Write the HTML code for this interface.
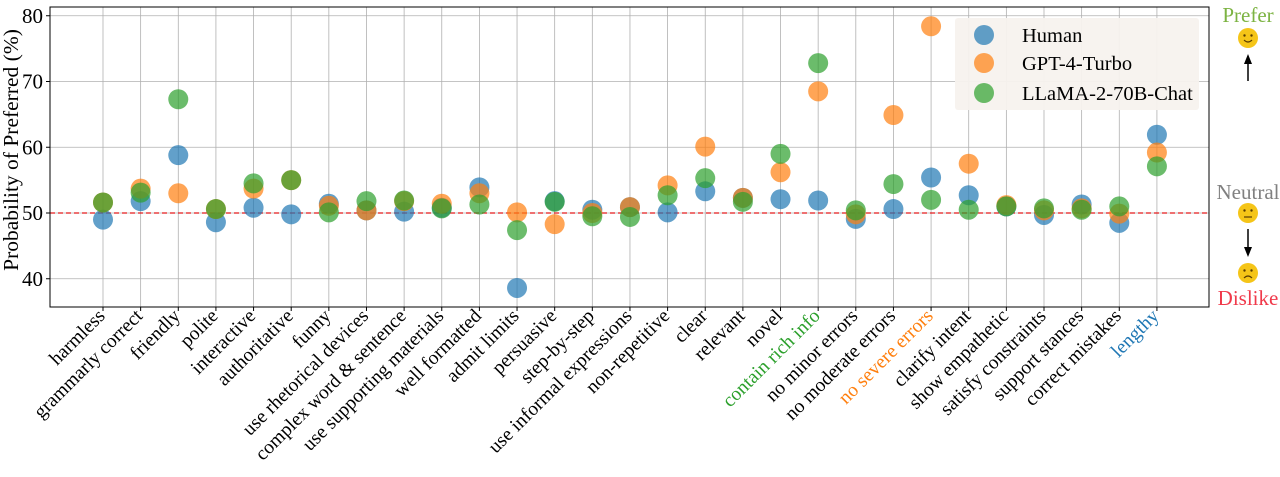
<!DOCTYPE html>
<html><head><meta charset="utf-8"><style>body{margin:0;background:#fff}svg{display:block}text{font-family:"Liberation Serif",serif}</style></head><body>
<svg width="1280" height="477" viewBox="0 0 1280 477" xmlns="http://www.w3.org/2000/svg" id="s"></svg>
<script>
const s=document.getElementById('s');
const L=50,R=1209,T=7,B=307;
const X=i=>103+i*37.64, Y=v=>213-(v-50)*6.575;
const cats=["harmless","grammarly correct","friendly","polite","interactive","authoritative","funny","use rhetorical devices","complex word & sentence","use supporting materials","well formatted","admit limits","persuasive","step-by-step","use informal expressions","non-repetitive","clear","relevant","novel","contain rich info","no minor errors","no moderate errors","no severe errors","clarify intent","show empathetic","satisfy constraints","support stances","correct mistakes","lengthy"];
const H=[49.0,51.8,58.8,48.6,50.8,49.8,51.4,50.4,50.2,50.8,53.9,38.6,51.8,50.5,50.9,50.1,53.3,52.3,52.1,51.9,49.1,50.6,55.4,52.7,51.0,49.7,51.3,48.5,61.9];
const G=[51.6,53.7,53.0,50.6,53.7,55.0,51.1,50.4,51.8,51.4,53.0,50.1,48.3,50.0,50.9,54.2,60.1,52.3,56.2,68.5,49.8,64.9,78.4,57.5,51.2,50.4,50.7,49.9,59.2];
const Lm=[51.6,53.1,67.3,50.6,54.5,55.0,50.1,51.8,51.9,50.7,51.3,47.4,51.7,49.5,49.4,52.7,55.3,51.7,59.0,72.8,50.4,54.4,52.0,50.5,51.0,50.7,50.5,51.0,57.1];
const col={19:"#2ca02c",22:"#ff7f0e",28:"#1f77b4"};
let h='';
for(const v of [40,50,60,70,80]){h+=`<line x1="${L}" x2="${R}" y1="${Y(v)}" y2="${Y(v)}" stroke="#b0b0b0" stroke-width="0.8"/>`;h+=`<line x1="${L-4}" x2="${L}" y1="${Y(v)}" y2="${Y(v)}" stroke="#000"/>`;h+=`<text x="${L-7}" y="${Y(v)+7}" font-size="21" text-anchor="end">${v}</text>`;}
cats.forEach((c,i)=>{const x=X(i);h+=`<line x1="${x}" x2="${x}" y1="${T}" y2="${B}" stroke="#b0b0b0" stroke-width="0.8"/><line x1="${x}" x2="${x}" y1="${B}" y2="${B+4}" stroke="#000"/>`;
h+=`<text transform="translate(${x+3},${B+10}) rotate(-45)" font-size="19.5" text-anchor="end" fill="${col[i]||'#000'}">${c.replace('&','&amp;')}</text>`;});
h+=`<line x1="${L}" x2="${R}" y1="${Y(50)}" y2="${Y(50)}" stroke="#e31a1c" stroke-width="1.3" stroke-dasharray="5,3"/>`;
[[H,"#1f77b4"],[G,"#ff7f0e"],[Lm,"#2ca02c"]].forEach(([d,c])=>d.forEach((v,i)=>{h+=`<circle cx="${X(i)}" cy="${Y(v)}" r="10" fill="${c}" fill-opacity="0.7"/>`;}));
h+=`<rect x="${L}" y="${T}" width="${R-L}" height="${B-T}" fill="none" stroke="#000" stroke-width="1"/>`;
h+=`<rect x="955" y="18" width="244" height="92" rx="3" fill="#f7f2ee" fill-opacity="0.95"/>`;
[["Human","#1f77b4",35],["GPT-4-Turbo","#ff7f0e",63],["LLaMA-2-70B-Chat","#2ca02c",93]].forEach(([t,c,y])=>{h+=`<circle cx="984" cy="${y}" r="10" fill="${c}" fill-opacity="0.7"/><text x="1022" y="${y+7}" font-size="20.5">${t}</text>`;});
h+=`<text x="0" y="0" transform="translate(18,150) rotate(-90)" font-size="21.5" text-anchor="middle">Probability of Preferred (%)</text>`;
const face=(y,m)=>`<circle cx="1248" cy="${y}" r="10" fill="#f5c518"/><circle cx="1244.5" cy="${y-2.5}" r="1.2" fill="#5a3d00"/><circle cx="1251.5" cy="${y-2.5}" r="1.2" fill="#5a3d00"/><path d="${m}" stroke="#5a3d00" stroke-width="1.2" fill="none"/>`;
h+=`<text x="1248" y="22" font-size="21" fill="#7cb342" text-anchor="middle">Prefer</text>`+face(38,"M1244 40 Q1248 44 1252 40");
h+=`<line x1="1248" y1="81" x2="1248" y2="62" stroke="#000" stroke-width="1.5"/><path d="M1244 64 L1248 54 L1252 64 Z"/>`;
h+=`<text x="1248" y="199" font-size="21" fill="#808080" text-anchor="middle">Neutral</text>`+face(213,"M1244 217 L1252 217");
h+=`<line x1="1248" y1="229" x2="1248" y2="248" stroke="#000" stroke-width="1.5"/><path d="M1244 247 L1248 257 L1252 247 Z"/>`;
h+=face(273,"M1244 278 Q1248 274 1252 278")+`<text x="1248" y="305" font-size="21" fill="#f0394a" text-anchor="middle">Dislike</text>`;
s.innerHTML=h;
</script>
</body></html>
